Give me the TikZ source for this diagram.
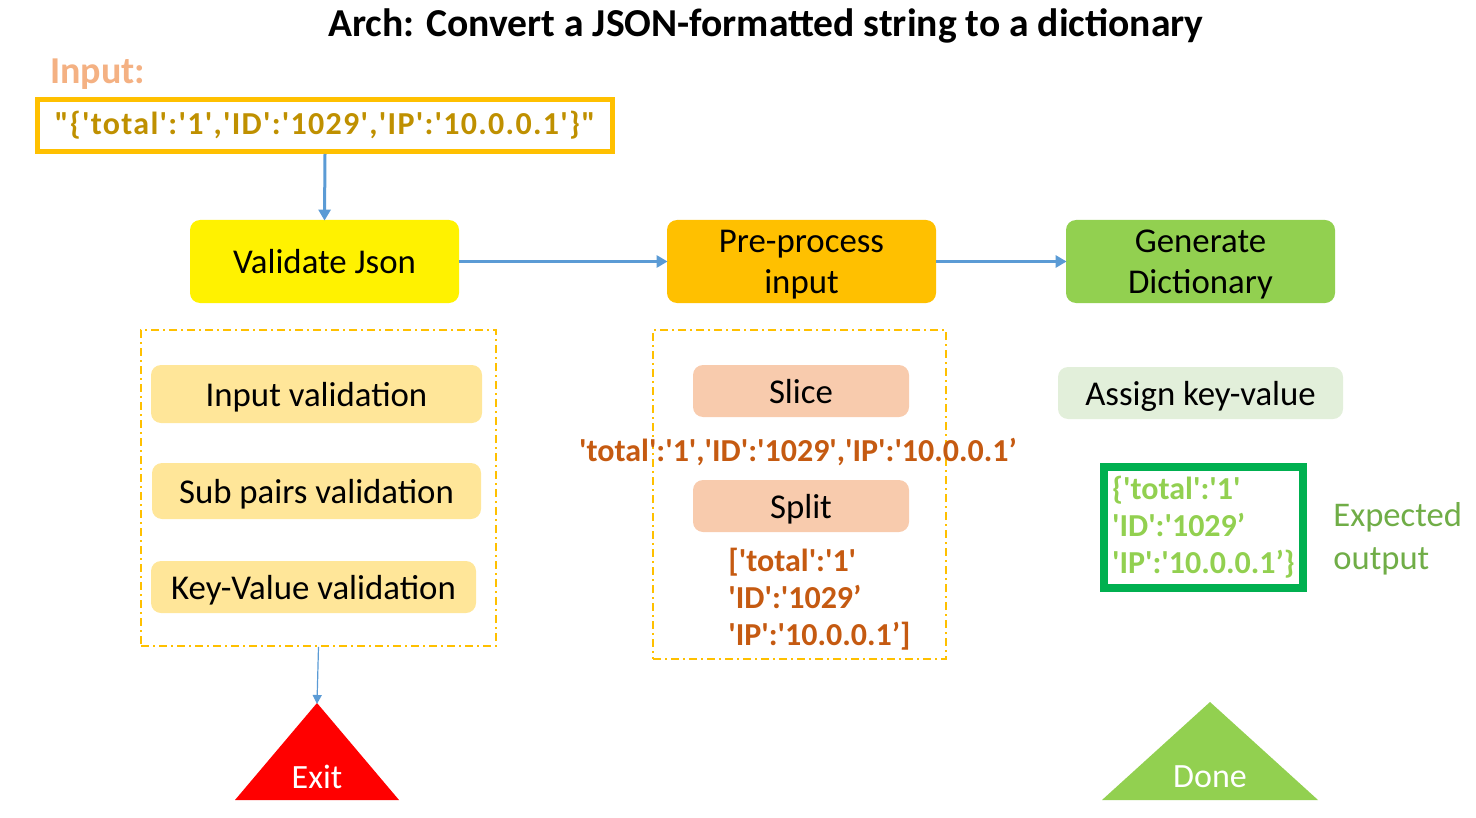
\documentclass[tikz,border=0pt]{standalone}
\usepackage{fontspec}
\setmainfont{Carlito}
\newfontfamily\codefont{Carlito}
\newfontfamily\widecodefont[LetterSpace=4]{Carlito}
\usetikzlibrary{arrows.meta}

\definecolor{jsgold}{HTML}{FFC000}
\definecolor{codegold}{HTML}{BF9000}
\definecolor{inlabel}{HTML}{F4B183}
\definecolor{checkyellow}{HTML}{FFE699}
\definecolor{peach}{HTML}{F8CBAD}
\definecolor{rust}{HTML}{C55A11}
\definecolor{leafgreen}{HTML}{92D050}
\definecolor{palegreen}{HTML}{E2EFDA}
\definecolor{boxgreen}{HTML}{00B050}
\definecolor{olive}{HTML}{70AD47}
\definecolor{flowblue}{HTML}{5B9BD5}
\definecolor{exitred}{HTML}{FF0000}

\begin{document}
\begin{tikzpicture}[
    x=0.5pt, y=-0.5pt,
    >={Triangle[width=6pt,length=5.5pt]},
    stage/.style={rectangle, rounded corners=5pt, minimum width=134.5pt, minimum height=41.5pt, align=center, inner sep=0pt, text depth=0pt, font=\fontsize{17.4}{20.5}\selectfont},
    task/.style={rectangle, rounded corners=5pt, minimum height=26pt, inner sep=0pt, text depth=0pt, font=\fontsize{17.4}{20}\selectfont},
    group/.style={draw=jsgold, line width=0.8pt, dash pattern=on 4pt off 2pt on 1pt off 2pt, inner sep=0pt},
    code/.style={inner sep=0pt, align=left, font=\codefont\bfseries\fontsize{16}{18.5}\selectfont},
    flow/.style={->, draw=flowblue, line width=1.5pt, shorten >=-0.5pt}
]
    \useasboundingbox (0,0) rectangle (1476,818);

    \node[font=\bfseries\fontsize{19.8}{24}\selectfont] (title) at (766,26) {Arch: Convert a JSON-formatted string to a dictionary};

    % input string
    \node[anchor=west, inner sep=0pt, text=inlabel, font=\bfseries\fontsize{19}{22}\selectfont] (inlbl) at (50,74) {Input:};
    \node[code, font=\widecodefont\bfseries\fontsize{16}{18.5}\selectfont, draw=jsgold, line width=2.5pt, minimum width=287.5pt, minimum height=26pt, align=center, text=codegold] (inbox) at (325,125.5) {"\{'total':'1','ID':'1029','IP':'10.0.0.1'\}"};

    % main stages
    \node[stage, fill=yellow] (validate) at (324.5,261.5) {Validate Json};
    \node[stage, fill=jsgold] (preproc) at (801.5,261.5) {Pre-process\\input};
    \node[stage, fill=leafgreen] (gendict) at (1200.5,261.5) {Generate\\Dictionary};

    \draw[flow] (inbox.south) -- (validate.north);
    \draw[flow] (validate) -- (preproc);
    \draw[flow] (preproc) -- (gendict);

    % validation steps
    \node[group, minimum width=177.5pt, minimum height=158pt] (leftgrp) at (318.5,488) {};
    \node[task, fill=checkyellow, minimum width=165.5pt, minimum height=29pt] (inval) at (316.5,394) {Input validation};
    \node[task, fill=checkyellow, minimum width=164.5pt, minimum height=28pt] (subval) at (316.5,491) {Sub pairs validation};
    \node[task, fill=checkyellow, minimum width=162.5pt] (kvval) at (313.5,587) {Key-Value validation};

    % pre-process steps
    \node[group, minimum width=146.5pt, minimum height=164.5pt] (midgrp) at (799.5,494.5) {};
    \node[task, fill=peach, minimum width=108pt] (slice) at (801,391) {Slice};
    \node[code, text=rust] (sliced) at (798,452) {'total':'1','ID':'1029','IP':'10.0.0.1’};
    \node[task, fill=peach, minimum width=108pt] (split) at (801,506) {Split};
    \node[code, text=rust, anchor=west] (pairs) at (728,599) {['total':'1'\\'ID':'1029’\\'IP':'10.0.0.1’]};

    % dictionary
    \node[task, fill=palegreen, minimum width=142.5pt] (assign) at (1200.5,393) {Assign key-value};
    \node[code, text=leafgreen, draw=boxgreen, line width=4pt, minimum width=99.5pt, minimum height=60.5pt] (outbox) at (1203.5,527) {\{'total':'1'\\'ID':'1029’\\'IP':'10.0.0.1’\}};
    \node[anchor=west, inner sep=0pt, align=left, text=olive, font=\fontsize{17.3}{21.5}\selectfont] (expect) at (1333,538.5) {Expected\\output};

    % end states
    \coordinate (exittop) at (317,703);
    \fill[exitred] (235,800) -- (exittop) -- (399,800) -- cycle;
    \node[text=white, font=\fontsize{17}{20}\selectfont] (exit) at (317,777) {Exit};
    \draw[flow, line width=0.6pt, >={Triangle[width=4.5pt,length=4.5pt]}] (leftgrp.south) -- (exittop);

    \coordinate (donetop) at (1210,702);
    \fill[leafgreen] (1102,800) -- (donetop) -- (1318,800) -- cycle;
    \node[text=white, font=\fontsize{17}{20}\selectfont] (done) at (1210,777) {Done};
\end{tikzpicture}
\end{document}
